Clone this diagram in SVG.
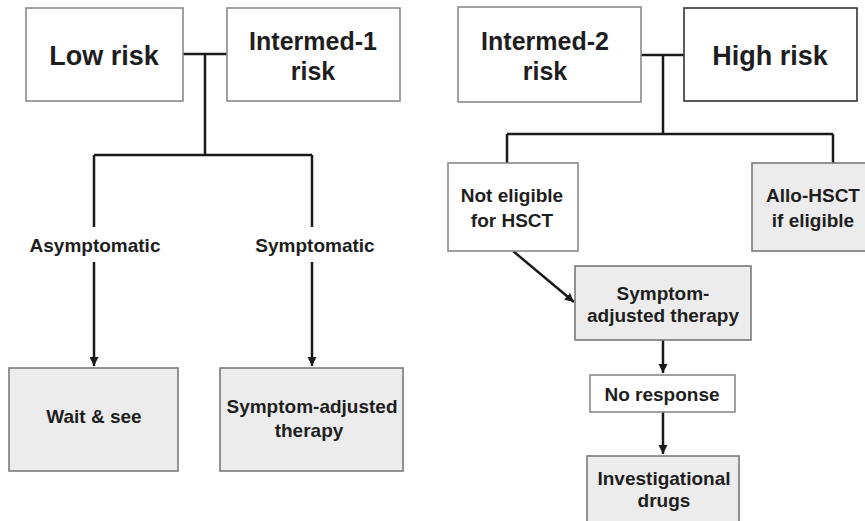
<svg xmlns="http://www.w3.org/2000/svg" width="865" height="521" viewBox="0 0 865 521">
<style>
.box{fill:#fff;stroke:#8a8a8a;stroke-width:1.6}
.dark{stroke:#333}
.gray{fill:#ececec;stroke:#7a7a7a;stroke-width:1.6}
.big{font-family:"Liberation Sans",Arial,sans-serif;font-weight:bold;fill:#1e1e1e;text-anchor:middle}
.sm{font-family:"Liberation Sans",Arial,sans-serif;font-weight:bold;font-size:19px;fill:#1e1e1e;text-anchor:middle}
.ln{fill:none;stroke:#1a1a1a;stroke-width:2.5}
</style>
<defs>
<marker id="ah" markerWidth="10" markerHeight="10" refX="9" refY="5" orient="auto" markerUnits="userSpaceOnUse">
<path d="M0,0.5 L9,5 L0,9.5 Z" fill="#1a1a1a"/>
</marker>
</defs>
<rect width="865" height="521" fill="#fff"/>
<g id="connectors">
<path class="ln" d="M183,54 H227 M205,54 V155 M94,155 H312 M94,155 V227 M312,155 V227"/>
<path class="ln" d="M94,262 V366" marker-end="url(#ah)"/>
<path class="ln" d="M312,262 V366" marker-end="url(#ah)"/>
<path class="ln" d="M641,55 H684 M663,55 V134 M507,134 H833 M507,134 V163 M833,134 V163"/>
<path class="ln" d="M513,251 L574,302" marker-end="url(#ah)"/>
<path class="ln" d="M663,340 V373" marker-end="url(#ah)"/>
<path class="ln" d="M663,412 V454" marker-end="url(#ah)"/>
</g>
<g id="low-risk"><rect class="box" x="26" y="8" width="157" height="93"/><text class="big" x="104" y="65" font-size="27">Low risk</text></g>
<g id="intermed-1"><rect class="box" x="227" y="8" width="173" height="93"/><text class="big" x="313" y="50" font-size="25">Intermed-1</text><text class="big" x="313" y="80" font-size="25">risk</text></g>
<g id="intermed-2"><rect class="box" x="458" y="7" width="183" height="95"/><text class="big" x="545" y="50" font-size="25">Intermed-2</text><text class="big" x="545" y="80" font-size="25">risk</text></g>
<g id="high-risk"><rect class="box dark" x="684" y="8" width="173" height="93"/><text class="big" x="770" y="65" font-size="27">High risk</text></g>
<g id="asymptomatic"><text class="sm" x="95" y="252" font-size="20">Asymptomatic</text></g>
<g id="symptomatic"><text class="sm" x="315" y="252" font-size="20">Symptomatic</text></g>
<g id="wait-see"><rect class="gray" x="9" y="368" width="169" height="103"/><text class="sm" x="94" y="423">Wait &amp; see</text></g>
<g id="symptom-adjusted-left"><rect class="gray" x="220" y="368" width="183" height="103"/><text class="sm" x="312" y="413">Symptom-adjusted</text><text class="sm" x="309" y="437">therapy</text></g>
<g id="not-eligible"><rect class="box" x="448" y="163" width="130" height="88"/><text class="sm" x="512" y="202">Not eligible</text><text class="sm" x="512" y="227">for HSCT</text></g>
<g id="allo-hsct"><rect class="gray" x="752" y="163" width="116" height="88"/><text class="sm" x="813" y="202">Allo-HSCT</text><text class="sm" x="813" y="227">if eligible</text></g>
<g id="symptom-adjusted-right"><rect class="gray" x="575" y="266" width="176" height="74"/><text class="sm" x="663" y="300">Symptom-</text><text class="sm" x="663" y="322">adjusted therapy</text></g>
<g id="no-response"><rect class="box" x="590" y="375" width="145" height="37"/><text class="sm" x="662" y="401" font-size="20">No response</text></g>
<g id="investigational"><rect class="gray" x="587" y="456" width="152" height="68"/><text class="sm" x="664" y="485">Investigational</text><text class="sm" x="664" y="507">drugs</text></g>
</svg>
